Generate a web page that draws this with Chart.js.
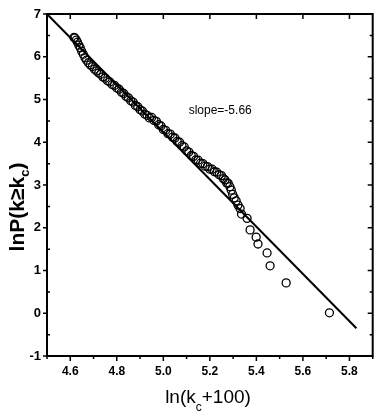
<!DOCTYPE html>
<html>
<head>
<meta charset="utf-8">
<script src="https://cdn.jsdelivr.net/npm/chart.js@4.4.1/dist/chart.umd.min.js"></script>
<style>
  html, body { margin: 0; padding: 0; background: #fff; }
  #wrap { width: 378px; height: 416px; }
</style>
</head>
<body>
<div id="wrap"><canvas id="chart" width="378" height="416"></canvas></div>
<script>
// data
const dataX = [
  4.616, 4.620, 4.626, 4.631, 4.637, 4.643, 4.649, 4.656, 4.663, 4.670,
  4.678, 4.686, 4.695, 4.704, 4.713, 4.722, 4.731, 4.740, 4.750, 4.760,
  4.770, 4.780, 4.790, 4.800, 4.810, 4.820, 4.830, 4.840, 4.850, 4.860,
  4.870, 4.880, 4.890, 4.900, 4.910, 4.920, 4.930, 4.940, 4.950, 4.960,
  4.970, 4.980, 4.990, 5.000, 5.010, 5.020, 5.030, 5.040, 5.050, 5.060,
  5.070, 5.080, 5.090, 5.100, 5.110, 5.120, 5.130, 5.140, 5.150, 5.160,
  5.170, 5.180, 5.190, 5.200, 5.210, 5.220, 5.230, 5.240, 5.250, 5.258,
  5.265, 5.272, 5.279, 5.286, 5.292, 5.298, 5.305, 5.313, 5.321, 5.330,
  5.336, 5.360, 5.373, 5.399, 5.407, 5.446, 5.459, 5.528, 5.714
];
const dataY = [
  6.45, 6.44, 6.39, 6.34, 6.27, 6.21, 6.13, 6.06, 5.98, 5.92,
  5.86, 5.81, 5.77, 5.71, 5.67, 5.62, 5.59, 5.53, 5.50, 5.44,
  5.41, 5.35, 5.33, 5.27, 5.24, 5.17, 5.14, 5.07, 5.04, 4.97,
  4.94, 4.86, 4.83, 4.76, 4.73, 4.66, 4.63, 4.57, 4.58, 4.51,
  4.49, 4.41, 4.38, 4.30, 4.28, 4.20, 4.19, 4.12, 4.10, 4.02,
  4.00, 3.92, 3.89, 3.80, 3.77, 3.69, 3.67, 3.59, 3.58, 3.51,
  3.50, 3.44, 3.43, 3.37, 3.37, 3.31, 3.30, 3.24, 3.22, 3.15,
  3.12, 3.05, 3.04, 2.96, 2.88, 2.78, 2.70, 2.63, 2.53, 2.45,
  2.32, 2.22, 1.95, 1.78, 1.62, 1.41, 1.11, 0.71, 0.01
];
const fitX = [4.5, 5.83];
const fitY = [7.0, -0.35];
const slopeLabel = 'slope=-5.66';
const slopeAt = [5.109, 4.75];

const xTicks = [4.6, 4.8, 5.0, 5.2, 5.4, 5.6, 5.8];
const xMinorTicks = [4.5, 4.7, 4.9, 5.1, 5.3, 5.5, 5.7, 5.9];
const yTicks = [-1, 0, 1, 2, 3, 4, 5, 6, 7];
const yMinorTicks = [-0.5, 0.5, 1.5, 2.5, 3.5, 4.5, 5.5, 6.5];

const FONT = "'Liberation Sans', Arial, sans-serif";

// frame, tick marks, titles and the slope note
const decorations = {
  id: 'decorations',
  afterDraw(chart) {
    const { ctx, chartArea: a, scales: { x, y } } = chart;
    ctx.save();
    ctx.strokeStyle = '#000';
    ctx.fillStyle = '#000';

    ctx.lineWidth = 2;
    ctx.strokeRect(a.left, a.top, a.right - a.left, a.bottom - a.top);

    ctx.lineWidth = 1.5;
    ctx.beginPath();
    xTicks.forEach(v => {
      const px = x.getPixelForValue(v);
      ctx.moveTo(px, a.bottom); ctx.lineTo(px, a.bottom + 5);
      ctx.moveTo(px, a.top); ctx.lineTo(px, a.top + 5);
    });
    xMinorTicks.forEach(v => {
      const px = x.getPixelForValue(v);
      ctx.moveTo(px, a.bottom); ctx.lineTo(px, a.bottom + 3);
    });
    yTicks.forEach(v => {
      const py = y.getPixelForValue(v);
      ctx.moveTo(a.left - 4, py); ctx.lineTo(a.left, py);
      ctx.moveTo(a.right, py); ctx.lineTo(a.right - 5, py);
    });
    yMinorTicks.forEach(v => {
      const py = y.getPixelForValue(v);
      ctx.moveTo(a.left, py); ctx.lineTo(a.left + 3, py);
      ctx.moveTo(a.right, py); ctx.lineTo(a.right - 3, py);
    });
    ctx.stroke();

    // x title: ln(k_c+100)
    ctx.textBaseline = 'alphabetic';
    ctx.textAlign = 'left';
    const big = '19px ' + FONT, sub = '12px ' + FONT;
    ctx.font = big;
    const w1 = ctx.measureText('ln(k').width;
    const w3 = ctx.measureText('+100)').width;
    ctx.font = sub;
    const w2 = ctx.measureText('c').width;
    const sx = 208 - (w1 + w2 + w3) / 2;
    const base = 403;
    ctx.font = big; ctx.fillText('ln(k', sx, base);
    ctx.font = sub; ctx.fillText('c', sx + w1, base + 8);
    ctx.font = big; ctx.fillText('+100)', sx + w1 + w2, base);

    // y title: lnP(k≥k_c), rotated
    ctx.save();
    ctx.translate(24, 207);
    ctx.rotate(-Math.PI / 2);
    const yb = 'bold 21px ' + FONT, ys = 'bold 13px ' + FONT;
    ctx.font = yb;
    const a1 = ctx.measureText('lnP(k≥k').width;
    const a3 = ctx.measureText(')').width;
    ctx.font = ys;
    const a2 = ctx.measureText('c').width;
    const ty = -(a1 + a2 + a3) / 2;
    ctx.font = yb; ctx.fillText('lnP(k≥k', ty, 0);
    ctx.font = ys; ctx.fillText('c', ty + a1, 5);
    ctx.font = yb; ctx.fillText(')', ty + a1 + a2, 0);
    ctx.restore();

    // slope note
    ctx.font = '12px ' + FONT;
    ctx.textBaseline = 'middle';
    ctx.fillText(slopeLabel, x.getPixelForValue(slopeAt[0]), y.getPixelForValue(slopeAt[1]));
    ctx.restore();
  }
};

new Chart(document.getElementById('chart'), {
  type: 'scatter',
  data: {
    datasets: [
      {
        label: 'data',
        data: dataX.map((v, i) => ({ x: v, y: dataY[i] })),
        pointStyle: 'circle',
        pointRadius: 4,
        pointBorderWidth: 1.3,
        pointBorderColor: '#000',
        pointBackgroundColor: 'rgba(255,255,255,0)',
        showLine: false
      },
      {
        label: 'fit',
        type: 'line',
        data: fitX.map((v, i) => ({ x: v, y: fitY[i] })),
        borderColor: '#000',
        borderWidth: 2,
        pointRadius: 0,
        fill: false
      }
    ]
  },
  options: {
    responsive: false,
    animation: false,
    devicePixelRatio: 1,
    layout: { padding: { top: 14, right: 2, left: 0, bottom: 0 } },
    plugins: { legend: { display: false }, tooltip: { enabled: false } },
    scales: {
      x: {
        type: 'linear',
        min: 4.5,
        max: 5.9,
        afterBuildTicks: s => { s.ticks = xTicks.map(v => ({ value: v })); },
        afterFit: s => { s.height = 60; },
        grid: { display: false, drawTicks: false },
        border: { display: false },
        ticks: {
          color: '#000',
          padding: 8,
          maxRotation: 0,
          font: { family: FONT, size: 12, weight: 'bold' },
          callback: v => v.toFixed(1)
        }
      },
      y: {
        type: 'linear',
        min: -1,
        max: 7,
        afterBuildTicks: s => { s.ticks = yTicks.map(v => ({ value: v })); },
        afterFit: s => { s.width = 47; },
        grid: { display: false, drawTicks: false },
        border: { display: false },
        ticks: {
          color: '#000',
          padding: 6,
          font: { family: FONT, size: 13, weight: 'bold' },
          callback: v => String(v)
        }
      }
    }
  },
  plugins: [decorations]
});
</script>
</body>
</html>
